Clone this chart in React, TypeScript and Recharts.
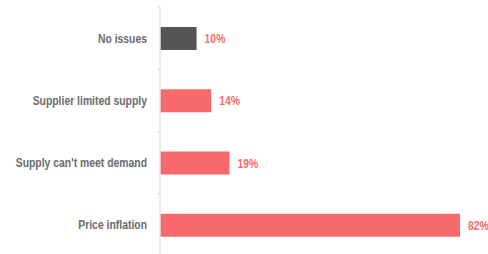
import React from 'react';
import { BarChart, Bar, XAxis, YAxis, Cell, LabelList } from 'recharts';

const categories = ['No issues', 'Supplier limited supply', "Supply can't meet demand", 'Price inflation'];
const shares = [10, 14, 19, 82];
const barColors = ['#555555', '#f8696b', '#f8696b', '#f8696b'];

const chartWidth = 488;
const chartHeight = 256;
const margin = { top: 7, right: 28, bottom: 0, left: 0 };
const band = (chartHeight - margin.top - margin.bottom) / categories.length;
const font = '"Liberation Sans", Arial, sans-serif';
// no narrow font installed, so squeeze the glyphs horizontally
const squeeze = 0.8;

const data = categories.map((name, i) => ({ name, value: shares[i], color: barColors[i] }));

// label at band centre, small tick mark on the band's top edge
const CategoryTick = (props: any) => {
  const { x, y, payload } = props;
  return (
    <g>
      <line x1={x + 10} x2={x + 13} y1={y - band / 2} y2={y - band / 2} stroke="#dcdcdc" strokeWidth={1} />
      <text
        transform={`translate(${x},${y}) scale(${squeeze},1)`}
        dy={4.5}
        textAnchor="end"
        fill="#6b6b6b"
        fontSize={13}
        fontWeight="bold"
        fontFamily={font}
      >
        {payload.value}
      </text>
    </g>
  );
};

const ValueLabel = (props: any) => {
  const { x, y, width, height, value } = props;
  const lx = x + width + 8;
  const ly = y + height / 2;
  return (
    <text
      transform={`translate(${lx},${ly}) scale(${squeeze},1)`}
      dy={4.5}
      fill="#f96a6a"
      fontSize={13}
      fontWeight="bold"
      fontFamily={font}
    >
      {`${value}%`}
    </text>
  );
};

export default function App() {
  return (
    <div style={{ position: 'absolute', left: 0, top: 0 }}>
      <BarChart width={chartWidth} height={chartHeight} data={data} layout="vertical" margin={margin}>
        <XAxis type="number" domain={[0, 82]} hide />
        <YAxis
          type="category"
          dataKey="name"
          width={160}
          tickLine={false}
          tickSize={0}
          tickMargin={13}
          axisLine={{ stroke: '#e3e3e3', strokeWidth: 1.5 }}
          tick={<CategoryTick />}
          interval={0}
        />
        <Bar dataKey="value" barSize={23} isAnimationActive={false}>
          {data.map((d) => (
            <Cell key={d.name} fill={d.color} />
          ))}
          <LabelList dataKey="value" content={<ValueLabel />} />
        </Bar>
      </BarChart>
    </div>
  );
}
